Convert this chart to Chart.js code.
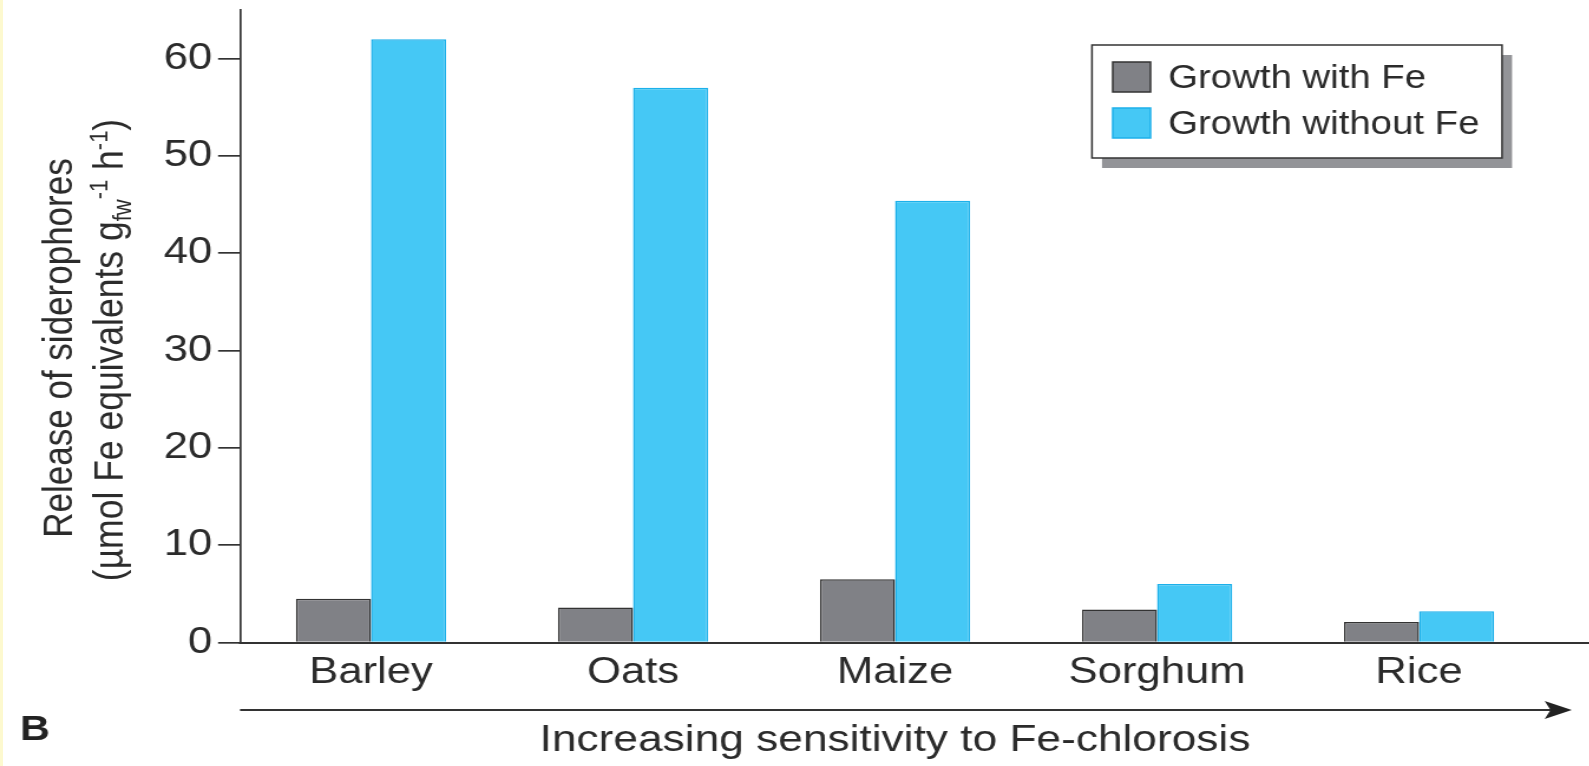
<!DOCTYPE html>
<html>
<head>
<meta charset="utf-8">
<script src="https://cdn.jsdelivr.net/npm/chart.js@4.4.1/dist/chart.umd.min.js"></script>
<style>
html,body{margin:0;padding:0;background:#fff;overflow:hidden;width:1589px;height:766px}
#wrap{position:absolute;left:0;top:0;width:1347px;height:766px;transform:scaleX(1.18);transform-origin:0 0}
#edge{position:absolute;left:0;top:0;width:3px;height:766px;background:#fdf9cf}
</style>
</head>
<body>
<div id="wrap"><canvas id="c" width="1347" height="766"></canvas></div>
<div id="edge"></div>
<script>
// ---- data ----
const categories = ['Barley', 'Oats', 'Maize', 'Sorghum', 'Rice'];
const withFe = [4.5, 3.6, 6.5, 3.4, 2.1];
const withoutFe = [62, 57, 45.4, 6.0, 3.2];
const seriesLabels = ['Growth with Fe', 'Growth without Fe'];
const yTicks = [0, 10, 20, 30, 40, 50, 60];
const yTitleLine1 = 'Release of siderophores';
const yTitleLine2 = [
  { t: '(\u00b5mol Fe equivalents g' },
  { t: 'fw', sub: true },
  { t: '-1', sup: true },
  { t: ' h' },
  { t: '-1', sup: true },
  { t: ')' }
];
const xTitle = 'Increasing sensitivity to Fe-chlorosis';
const panelLabel = 'B';

// ---- styles ----
const FAMILY = "'Liberation Sans', Arial, Helvetica, sans-serif";
const TEXT = '#2b2b2b';
const AXIS = '#333333';
const colors = {
  withFe: { bg: '#808186', border: '#333333' },
  withoutFe: { bg: '#45c8f5', border: '#1cb0ea' }
};

const decorPlugin = {
  id: 'decor',
  afterDatasetsDraw(chart) {
    const ctx = chart.ctx;
    const ca = chart.chartArea;
    ctx.save();
    // x axis line, extended to the right edge
    const yb = Math.round(ca.bottom);
    ctx.strokeStyle = AXIS;
    ctx.lineWidth = 2;
    ctx.beginPath();
    ctx.moveTo(ca.left - 1, yb);
    ctx.lineTo(chart.width, yb);
    ctx.stroke();

    // arrow under the category labels
    const ay = 710;
    const tip = 1332;
    ctx.lineWidth = 2;
    ctx.beginPath();
    ctx.moveTo(ca.left, ay);
    ctx.lineTo(tip - 10, ay);
    ctx.stroke();
    ctx.fillStyle = '#222';
    ctx.beginPath();
    ctx.moveTo(tip, ay);
    ctx.lineTo(tip - 23, ay - 9);
    ctx.lineTo(tip - 18, ay);
    ctx.lineTo(tip - 23, ay + 9);
    ctx.closePath();
    ctx.fill();

    // panel label
    ctx.fillStyle = '#222';
    ctx.font = 'bold 35px ' + FAMILY;
    ctx.textAlign = 'left';
    ctx.textBaseline = 'alphabetic';
    ctx.fillText(panelLabel, 17, 740);

    // y axis title (two lines, rotated)
    ctx.fillStyle = TEXT;
    ctx.font = '35px ' + FAMILY;
    ctx.save();
    ctx.translate(61, 348);
    ctx.rotate(-Math.PI / 2);
    ctx.textAlign = 'center';
    ctx.fillText(yTitleLine1, 0, 0);
    ctx.restore();

    const big = '35.5px ' + FAMILY;
    const small = '22px ' + FAMILY;
    let total = 0;
    yTitleLine2.forEach(s => {
      ctx.font = (s.sub || s.sup) ? small : big;
      s.w = ctx.measureText(s.t).width;
      total += s.w;
    });
    ctx.save();
    ctx.translate(104, 350);
    ctx.rotate(-Math.PI / 2);
    ctx.textAlign = 'left';
    let x = -total / 2;
    yTitleLine2.forEach(s => {
      ctx.font = (s.sub || s.sup) ? small : big;
      const dy = s.sub ? 7 : (s.sup ? -13 : 0);
      ctx.fillText(s.t, x, dy);
      x += s.w;
    });
    ctx.restore();

    // legend box with shadow
    const lx = 925.4, ly = 45, lw = 347.5, lh = 113;
    ctx.fillStyle = '#939498';
    ctx.fillRect(lx + 8.5, ly + 10, lw, lh);
    ctx.fillStyle = '#ffffff';
    ctx.fillRect(lx, ly, lw, lh);
    ctx.strokeStyle = '#333';
    ctx.lineWidth = 1.5;
    ctx.strokeRect(lx, ly, lw, lh);

    const items = chart.data.datasets;
    const rows = [62, 108];
    items.forEach((ds, i) => {
      const sy = rows[i];
      ctx.fillStyle = ds.backgroundColor;
      ctx.fillRect(943, sy, 32, 30);
      ctx.strokeStyle = ds.borderColor;
      ctx.lineWidth = 1.5;
      ctx.strokeRect(943, sy, 32, 30);
      ctx.fillStyle = TEXT;
      ctx.font = '32.5px ' + FAMILY;
      ctx.textAlign = 'left';
      ctx.textBaseline = 'middle';
      ctx.fillText(ds.label, 990, sy + 17);
      ctx.textBaseline = 'alphabetic';
    });
    ctx.restore();
  }
};

new Chart(document.getElementById('c'), {
  type: 'bar',
  data: {
    labels: categories,
    datasets: [
      {
        label: seriesLabels[0],
        data: withFe,
        backgroundColor: colors.withFe.bg,
        borderColor: colors.withFe.border,
        borderWidth: 1.5,
        categoryPercentage: 0.573,
        barPercentage: 1.0
      },
      {
        label: seriesLabels[1],
        data: withoutFe,
        backgroundColor: colors.withoutFe.bg,
        borderColor: colors.withoutFe.border,
        borderWidth: 1.5,
        categoryPercentage: 0.573,
        barPercentage: 1.0
      }
    ]
  },
  options: {
    responsive: false,
    animation: false,
    devicePixelRatio: 1,
    layout: { padding: { left: 0, right: 33.4, top: 10, bottom: 0 } },
    plugins: {
      legend: { display: false },
      tooltip: { enabled: false }
    },
    scales: {
      x: {
        grid: { display: false, drawTicks: false },
        border: { display: false },
        ticks: {
          font: { family: FAMILY, size: 37 },
          color: TEXT,
          padding: 8,
          maxRotation: 0,
          autoSkip: false
        },
        title: {
          display: true,
          text: xTitle,
          font: { family: FAMILY, size: 37.5 },
          color: TEXT,
          padding: { top: 0, bottom: 3 }
        },
        afterFit: s => { s.height = 123.5; s.paddingLeft = 0; s.paddingRight = 0; }
      },
      y: {
        min: 0,
        max: 65,
        grid: { drawOnChartArea: false, drawTicks: true, tickLength: 18.6, color: AXIS, lineWidth: 1.7 },
        border: { display: true, color: AXIS, width: 1.7 },
        ticks: {
          font: { family: FAMILY, size: 37 },
          color: TEXT,
          padding: 5
        },
        afterBuildTicks: s => { s.ticks = yTicks.map(v => ({ value: v })); },
        afterFit: s => { s.width = 203.4; s.paddingTop = 0; s.paddingBottom = 0; }
      }
    }
  },
  plugins: [decorPlugin]
});
</script>
</body>
</html>
